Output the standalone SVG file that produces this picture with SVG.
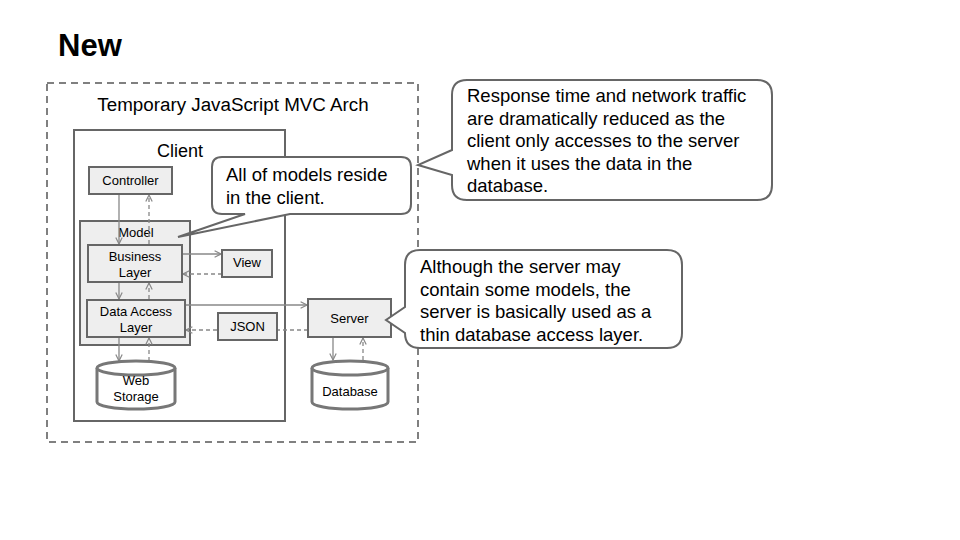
<svg xmlns="http://www.w3.org/2000/svg" width="960" height="540" viewBox="0 0 960 540">
<defs>
<style>
text{font-family:"Liberation Sans",Arial,sans-serif;fill:#000}
.box{fill:#eeeeee;stroke:#666;stroke-width:2}
.sm{font-size:13px;text-anchor:middle}
.big{font-size:18px}
.co{font-size:18.5px}
.callout{fill:#fff;stroke:#666;stroke-width:2}
.ln{stroke:#888;stroke-width:1.3;fill:none}
.dash{stroke-dasharray:4,3}
.cyl{fill:#fff;stroke:#777;stroke-width:3}
</style>
<marker id="ah" viewBox="0 0 10 10" refX="9" refY="5" markerWidth="8" markerHeight="8" markerUnits="userSpaceOnUse" orient="auto">
<path d="M1,1 L9,5 L1,9" fill="none" stroke="#888" stroke-width="1.5"/>
</marker>
</defs>
<rect width="960" height="540" fill="#fff"/>
<text x="58" y="56" style="font-size:31px;font-weight:bold">New</text>

<g id="arch">
<rect x="47" y="83" width="371" height="359" fill="none" stroke="#808080" stroke-width="2" stroke-dasharray="7,5"/>
<text x="233" y="111" style="font-size:18.8px" text-anchor="middle">Temporary JavaScript MVC Arch</text>
</g>

<g id="client">
<rect x="74" y="130" width="211" height="291" fill="#fff" stroke="#666" stroke-width="2"/>
<text x="180" y="157" class="big" text-anchor="middle">Client</text>
</g>

<g id="model">
<rect x="80" y="221" width="110" height="124" class="box"/>
<text x="136" y="237" class="sm">Model</text>
</g>

<g id="connectors">
<line x1="119" y1="195" x2="119" y2="244" class="ln" marker-end="url(#ah)"/>
<line x1="149" y1="244" x2="149" y2="195" class="ln dash" marker-end="url(#ah)"/>
<line x1="182" y1="254" x2="221" y2="254" class="ln" marker-end="url(#ah)"/>
<line x1="222" y1="274" x2="183" y2="274" class="ln dash" marker-end="url(#ah)"/>
<line x1="119" y1="283" x2="119" y2="299" class="ln" marker-end="url(#ah)"/>
<line x1="149" y1="299" x2="149" y2="283" class="ln dash" marker-end="url(#ah)"/>
<line x1="186" y1="305" x2="307" y2="305" class="ln" marker-end="url(#ah)"/>
<line x1="308" y1="330" x2="186" y2="330" class="ln dash" marker-end="url(#ah)"/>
<line x1="119" y1="338" x2="119" y2="361" class="ln" marker-end="url(#ah)"/>
<line x1="149" y1="361" x2="149" y2="338" class="ln dash" marker-end="url(#ah)"/>
<line x1="333" y1="338" x2="333" y2="360" class="ln" marker-end="url(#ah)"/>
<line x1="363" y1="360" x2="363" y2="338" class="ln dash" marker-end="url(#ah)"/>
</g>

<g id="controller">
<rect x="89" y="167" width="83" height="27" class="box"/>
<text x="130.5" y="185" class="sm">Controller</text>
</g>

<g id="business">
<rect x="88" y="245" width="94" height="37" class="box"/>
<text x="135" y="261" class="sm">Business</text>
<text x="135" y="277" class="sm">Layer</text>
</g>

<g id="view">
<rect x="222" y="250" width="50" height="27" class="box"/>
<text x="247" y="267" class="sm">View</text>
</g>

<g id="dal">
<rect x="87" y="300" width="98" height="37" class="box"/>
<text x="136" y="316" class="sm">Data Access</text>
<text x="136" y="332" class="sm">Layer</text>
</g>

<g id="json">
<rect x="218" y="313" width="59" height="27" class="box"/>
<text x="247.5" y="331" class="sm">JSON</text>
</g>

<g id="server">
<rect x="308" y="299" width="83" height="38" class="box"/>
<text x="349.5" y="323" class="sm">Server</text>
</g>

<g id="webstorage">
<path d="M97,368 L97,402 A39,7 0 0 0 175,402 L175,368" class="cyl"/>
<ellipse cx="136" cy="368" rx="39" ry="7" class="cyl"/>
<text x="136" y="385" class="sm">Web</text>
<text x="136" y="401" class="sm">Storage</text>
</g>

<g id="database">
<path d="M312,368 L312,402 A38,7 0 0 0 388,402 L388,368" class="cyl"/>
<ellipse cx="350" cy="368" rx="38" ry="7" class="cyl"/>
<text x="350" y="396" class="sm">Database</text>
</g>

<g id="callout-models">
<path d="M222,157 H401 Q411,157 411,167 V204 Q411,214 401,214 H290 L178,237 L245,214 H222 Q212,214 212,204 V167 Q212,157 222,157 Z" class="callout"/>
<text x="226" y="181" class="co">All of models reside</text>
<text x="226" y="204" class="co">in the client.</text>
</g>

<g id="callout-response">
<path d="M467,80 H757 Q772,80 772,95 V185 Q772,200 757,200 H467 Q452,200 452,185 V175 L418,165 L452,150 V95 Q452,80 467,80 Z" class="callout"/>
<text x="467" y="102" class="co">Response time and network traffic</text>
<text x="467" y="124.5" class="co">are dramatically reduced as the</text>
<text x="467" y="147" class="co">client only accesses to the server</text>
<text x="467" y="169.5" class="co">when it uses the data in the</text>
<text x="467" y="192" class="co">database.</text>
</g>

<g id="callout-server">
<path d="M420,250 H667 Q682,250 682,265 V333 Q682,348 667,348 H420 Q405,348 405,333 V333 L386,320 L405,307 V265 Q405,250 420,250 Z" class="callout"/>
<text x="420" y="273" class="co">Although the server may</text>
<text x="420" y="295.5" class="co">contain some models, the</text>
<text x="420" y="318" class="co">server is basically used as a</text>
<text x="420" y="340.5" class="co">thin database access layer.</text>
</g>
</svg>
